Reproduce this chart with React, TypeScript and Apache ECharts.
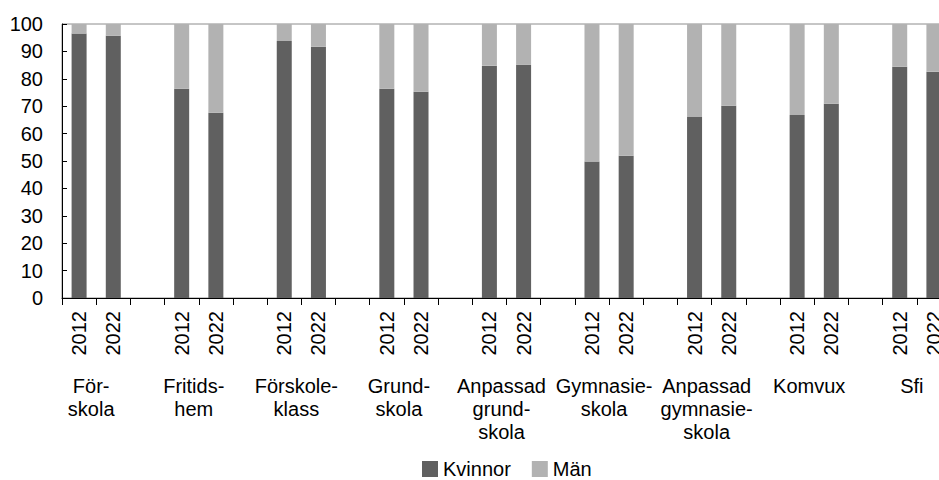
import React, { useEffect, useRef } from "react";
import * as echarts from "echarts";

const groups = [
  "För-\nskola",
  "Fritids-\nhem",
  "Förskole-\nklass",
  "Grund-\nskola",
  "Anpassad\ngrund-\nskola",
  "Gymnasie-\nskola",
  "Anpassad\ngymnasie-\nskola",
  "Komvux",
  "Sfi",
];
const years = ["2012", "2022"];
// Andel kvinnor (%) per group: [2012, 2022]
const kvinnor2012 = [96.5, 76.4, 93.8, 76.4, 84.8, 49.8, 66.1, 66.8, 84.4];
const kvinnor2022 = [95.7, 67.6, 91.7, 75.3, 85.1, 51.9, 70.2, 70.9, 82.6];
const yTicks = [0, 10, 20, 30, 40, 50, 60, 70, 80, 90, 100];

export default function App() {
  const ref = useRef<HTMLDivElement>(null);
  useEffect(() => {
    if (!ref.current) return;
    const chart = echarts.init(ref.current, null, { renderer: "svg" });

    const slots: string[] = [];
    const kv: (number | null)[] = [];
    const man: (number | null)[] = [];
    groups.forEach((g, gi) => {
      const vals = [kvinnor2012[gi], kvinnor2022[gi]];
      years.forEach((y, yi) => {
        slots.push(gi + "|" + y);
        kv.push(vals[yi]);
        man.push(+(100 - vals[yi]).toFixed(1));
      });
      if (gi < groups.length - 1) {
        slots.push(gi + "|");
        kv.push(null);
        man.push(null);
      }
    });
    const boundaries: string[] = [];
    for (let i = 0; i <= slots.length; i++) boundaries.push("b" + i);

    const font = "'Liberation Sans', Arial, sans-serif";

    chart.setOption({
      animation: false,
      grid: {
        left: 62,
        top: 24,
        width: 889,
        height: 274,
        show: true,
        borderColor: "#8c8c8c",
        borderWidth: 1,
        backgroundColor: "transparent",
      },
      legend: {
        data: ["Kvinnor", "Män"],
        left: 417,
        top: 454,
        icon: "rect",
        itemWidth: 16,
        itemHeight: 16,
        itemGap: 21,
        textStyle: { fontSize: 20, lineHeight: 20, color: "#000", fontFamily: font },
      },
      xAxis: [
        {
          type: "category",
          data: slots,
          boundaryGap: true,
          axisLine: { lineStyle: { color: "#000", width: 1 } },
          axisTick: { show: true, length: 7, interval: 0, lineStyle: { color: "#000" } },
          axisLabel: {
            interval: 0,
            rotate: 90,
            margin: 13,
            fontSize: 20,
            color: "#000",
            fontFamily: font,
            formatter: (v: string) => v.split("|")[1] || "",
          },
        },
        {
          type: "category",
          data: boundaries,
          boundaryGap: false,
          position: "bottom",
          axisLine: { show: false },
          axisTick: { show: false },
          axisLabel: {
            interval: 0,
            margin: 76,
            fontSize: 20,
            lineHeight: 23,
            color: "#000",
            fontFamily: font,
            align: "center",
            padding: [0, 10, 0, 0],
            formatter: (_v: string, idx: number) =>
              idx % 3 === 1 && Math.floor(idx / 3) < groups.length
                ? groups[Math.floor(idx / 3)]
                : "",
          },
        },
      ],
      yAxis: {
        type: "value",
        min: yTicks[0],
        max: yTicks[yTicks.length - 1],
        interval: 10,
        axisLine: { show: true, lineStyle: { color: "#000", width: 1 } },
        axisTick: { show: true, inside: true, length: 5, lineStyle: { color: "#000" } },
        splitLine: { show: false },
        axisLabel: { fontSize: 20, color: "#000", margin: 19, fontFamily: font },
      },
      series: [
        {
          name: "Kvinnor",
          type: "bar",
          stack: "a",
          xAxisIndex: 0,
          data: kv,
          barWidth: 15,
          itemStyle: { color: "#606060" },
        },
        {
          name: "Män",
          type: "bar",
          stack: "a",
          xAxisIndex: 0,
          data: man,
          barWidth: 15,
          itemStyle: { color: "#b2b2b2" },
        },
      ],
    });
    return () => chart.dispose();
  }, []);
  return (
    <div
      style={{
        position: "fixed",
        left: 0,
        top: 0,
        width: 939,
        height: 480,
        overflow: "hidden",
        background: "#fff",
      }}
    >
      <div ref={ref} style={{ width: 960, height: 480 }} />
    </div>
  );
}
